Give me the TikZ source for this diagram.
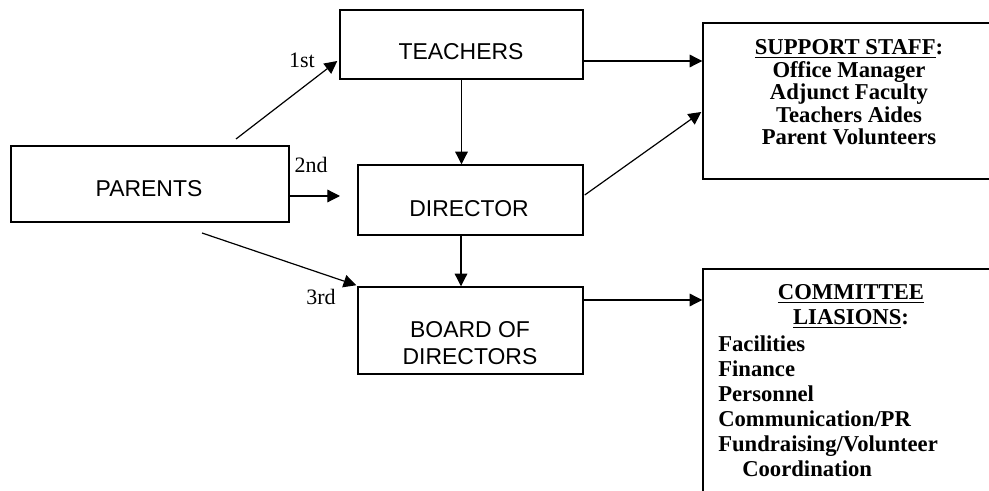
\documentclass[tikz,border=0pt]{standalone}
\usepackage{fontspec}
\setmainfont{Liberation Serif}
\newfontfamily\arialf{Liberation Sans}
\usetikzlibrary{arrows.meta,calc}
\begin{document}
\begin{tikzpicture}[x=0.75pt,y=-0.75pt,
  box/.style={draw, line width=1.1pt, inner sep=0pt},
  arr/.style={line width=0.9pt, -{Triangle[length=9.5pt,width=9.5pt]}},
  sanstxt/.style={font=\arialf\fontsize{17.2}{19.5}\selectfont, anchor=base, inner sep=0pt},
  sertxt/.style={font=\bfseries\fontsize{17}{17}\selectfont, anchor=base, inner sep=0pt},
  ordtxt/.style={font=\fontsize{16.5}{18}\selectfont, anchor=base, inner sep=0pt}]
\useasboundingbox (0,0) rectangle (989,491);
\clip (0,0) rectangle (989,491);
\fill[white] (0,0) rectangle (989,491);

% boxes
\node[box, minimum width=182.25pt, minimum height=51.75pt] (teachers) at (461.5,44.5) {};
\node[box, minimum width=208.5pt, minimum height=57pt] (parents) at (150,184) {};
\node[box, minimum width=168.75pt, minimum height=52.5pt] (director) at (470.5,200) {};
\node[box, minimum width=168.75pt, minimum height=65.25pt] (board) at (470.5,330.5) {};
\node[box, minimum width=219pt, minimum height=117pt] (support) at (849,101) {};
\node[box, minimum width=219pt, minimum height=188.25pt] (committee) at (849,394.5) {};

% box texts
\node[sanstxt] (tteach) at (461,60) {TEACHERS};
\node[sanstxt] (tpar) at (149,197) {PARENTS};
\node[sanstxt] (tdir) at (469,217) {DIRECTOR};
\node[sanstxt] (tboard1) at (470,338) {BOARD OF};
\node[sanstxt] (tboard2) at (470,365) {DIRECTORS};

% support staff
\node[sertxt] (s0) at (849,55) {\underline{SUPPORT STAFF}:};
\node[sertxt] (s1) at (849,77.5) {Office Manager};
\node[sertxt] (s2) at (849,100) {Adjunct Faculty};
\node[sertxt] (s3) at (849,122.5) {Teachers Aides};
\node[sertxt] (s4) at (849,145) {Parent Volunteers};

% committee liaisons
\node[sertxt] (c0) at (851,300) {\underline{COMMITTEE}};
\node[sertxt] (c1) at (851,325) {\underline{LIASIONS}:};
\node[sertxt, anchor=base west] (c2) at (718,352) {Facilities};
\node[sertxt, anchor=base west] (c3) at (718,377) {Finance};
\node[sertxt, anchor=base west] (c4) at (718,402) {Personnel};
\node[sertxt, anchor=base west] (c5) at (718,427) {Communication/PR};
\node[sertxt, anchor=base west] (c6) at (718,452) {Fundraising/Volunteer};
\node[sertxt, anchor=base west] (c7) at (742,477) {Coordination};

% order labels
\node[ordtxt] (l1) at (302,68) {1st};
\node[ordtxt] (l2) at (311,173) {2nd};
\node[ordtxt] (l3) at (321,305) {3rd};

% free ends
\coordinate (p1) at (236,139);
\coordinate (p3) at (202,233);
\coordinate (d2) at (340,196);

% connectors
\draw[arr] (p1) -- ($(teachers.west)+(-2,16.5)$);
\draw[arr] ($(parents.east)+(0,12)$) -- (d2);
\draw[arr] (p3) -- ($(board.north west)+(-1,-1)$);
\draw[arr] (teachers.south) -- (teachers.south |- director.north);
\draw[arr] ($(director.south)+(-9.5,0)$) -- ($(board.north)+(-9.5,0)$);
\draw[arr] ($(teachers.east)+(0,16.5)$) -- ($(support.west)+(0,-40)$);
\draw[arr] ($(director.east)+(1,-5)$) -- ($(support.west)+(-1,11)$);
\draw[arr] ($(board.east)+(0,-30.5)$) -- ($(committee.west |- board.east)+(0,-30.5)$);
\end{tikzpicture}
\end{document}
